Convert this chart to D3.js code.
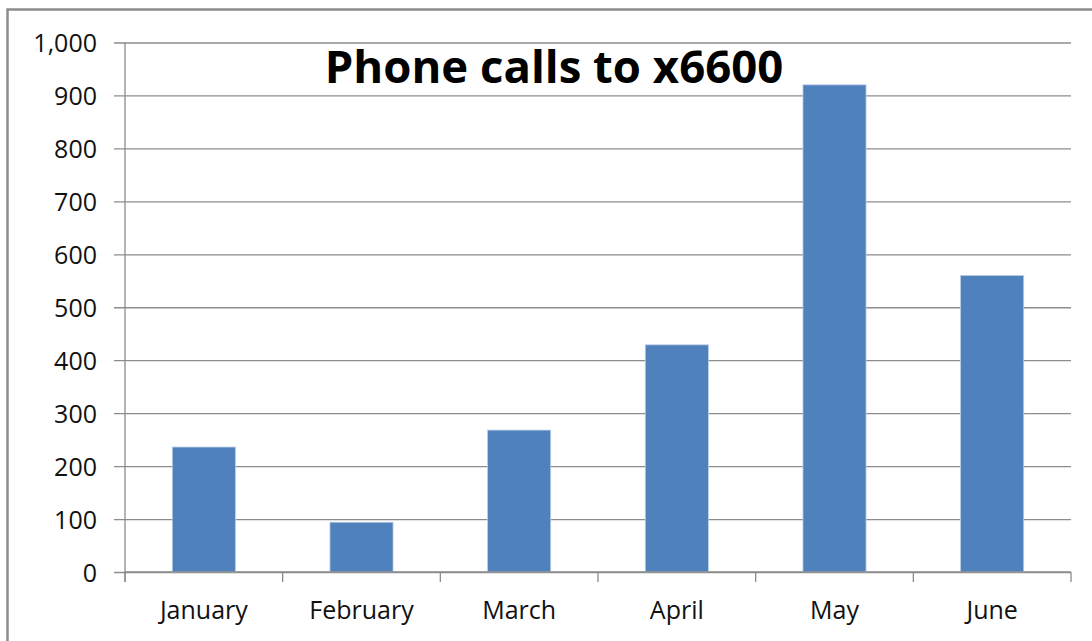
<!DOCTYPE html>
<html>
<head>
<meta charset="utf-8">
<script src="https://cdn.jsdelivr.net/npm/d3@7"></script>
<style>
  body { margin: 0; background: #fff; }
  text { font-family: "Open Sans", sans-serif; fill: #111; }
</style>
</head>
<body>
<div id="chart"></div>
<script>
const months = ['January', 'February', 'March', 'April', 'May', 'June'];
const calls = [236, 94, 268, 429, 920, 560];
const yTicks = [0, 100, 200, 300, 400, 500, 600, 700, 800, 900, 1000];

const width = 1092;
const height = 641;
const margin = {top: 42.5, right: 21, bottom: 69, left: 125};

const svg = d3.select('#chart')
  .append('svg')
  .attr('width', width)
  .attr('height', height);

// chart frame
svg.append('rect')
  .attr('x', 7.5)
  .attr('y', 9.5)
  .attr('width', width + 20)
  .attr('height', height + 20)
  .attr('fill', 'none')
  .attr('stroke', '#8c8c8c')
  .attr('stroke-width', 2.5);

const x = d3.scaleBand()
  .domain(months)
  .range([margin.left, width - margin.right])
  .paddingInner(0.6)
  .paddingOuter(0.3);

const y = d3.scaleLinear()
  .domain([0, 1000])
  .range([height - margin.bottom, margin.top]);

// gridlines + y ticks
const yAxis = svg.append('g')
  .attr('transform', `translate(${margin.left},0)`)
  .call(d3.axisLeft(y)
    .tickValues(yTicks)
    .tickFormat(d3.format(','))
    .tickSizeInner(-(width - margin.left - margin.right))
    .tickSizeOuter(0)
    .tickPadding(0));

yAxis.select('.domain').remove();
yAxis.selectAll('.tick line')
  .attr('x1', -11)
  .attr('stroke', '#8c8c8c')
  .attr('stroke-width', 1.3);
yAxis.selectAll('.tick text')
  .attr('x', -28)
  .attr('dy', '0.36em')
  .style('font-size', '25px')
  .style('fill', '#111');

// bars
svg.append('g')
  .selectAll('rect')
  .data(months)
  .enter().append('rect')
  .attr('x', d => x(d))
  .attr('y', (d, i) => y(calls[i]))
  .attr('width', x.bandwidth())
  .attr('height', (d, i) => y(0) - y(calls[i]))
  .attr('fill', '#4f81bd')
  .attr('stroke', '#b9cde5')
  .attr('stroke-width', 0.8);

// y axis line
svg.append('line')
  .attr('x1', margin.left).attr('x2', margin.left)
  .attr('y1', y(1000)).attr('y2', y(0) + 10)
  .attr('stroke', '#8c8c8c')
  .attr('stroke-width', 1.3);

// x axis line and category boundary ticks
const step = x.step();
const edges = d3.range(months.length + 1).map(i => margin.left + i * step);
svg.append('line')
  .attr('x1', margin.left).attr('x2', width - margin.right)
  .attr('y1', y(0)).attr('y2', y(0))
  .attr('stroke', '#8c8c8c')
  .attr('stroke-width', 1.3);
svg.append('g')
  .selectAll('line')
  .data(edges)
  .enter().append('line')
  .attr('x1', d => d).attr('x2', d => d)
  .attr('y1', y(0)).attr('y2', y(0) + 10)
  .attr('stroke', '#8c8c8c')
  .attr('stroke-width', 1.3);

// category labels
svg.append('g')
  .selectAll('text')
  .data(months)
  .enter().append('text')
  .attr('x', d => x(d) + x.bandwidth() / 2)
  .attr('y', 619)
  .attr('text-anchor', 'middle')
  .style('font-size', '25px')
  .text(d => d);

// title
svg.append('text')
  .attr('x', 554)
  .attr('y', 82.5)
  .attr('text-anchor', 'middle')
  .style('font-size', '45.5px')
  .style('font-weight', 'bold')
  .style('fill', '#000')
  .text('Phone calls to x6600');
</script>
</body>
</html>
